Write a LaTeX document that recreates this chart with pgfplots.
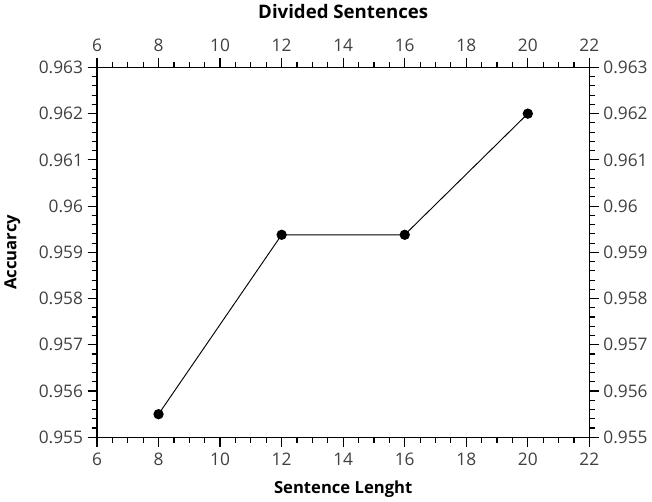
\documentclass[border=0pt]{standalone}
\usepackage{pgfplots}
\pgfplotsset{compat=1.18}
\usepackage{fontspec}
\setmainfont{Open Sans}
\begin{document}
\begin{tikzpicture}
\pgfplotsset{
  common/.style={
    width=370pt, height=278pt, scale only axis,
    xmin=6, xmax=22, ymin=0.955, ymax=0.963,
    xtick={6,8,...,22}, ytick={0.955,0.956,...,0.9635},
    minor x tick num=3, minor y tick num=4,
    tick align=outside,
    major tick length=7pt, minor tick length=4pt,
    every tick/.style={black, line width=0.9pt},
    axis line style={black, line width=0.9pt},
    scaled y ticks=false,
    /pgf/number format/assume math mode=true,
    ticklabel style={font=\fontsize{13}{15}\selectfont, text=black!75},
    yticklabel style={/pgf/number format/fixed, /pgf/number format/precision=3},
    xticklabel style={/pgf/number format/fixed},
  }
}
\begin{axis}[common,
  xticklabel pos=lower, yticklabel pos=left,
  xticklabel style={yshift=-1.5pt},
  xlabel={\textbf{Sentence Lenght}},
  ylabel={\textbf{Accuarcy}},
  label style={font=\fontsize{12.5}{15}\selectfont},
  xlabel style={yshift=-4pt},
  ylabel style={yshift=7pt},
]
\addplot[black, line width=0.7pt, mark=*, mark size=3.5pt] coordinates {
  (8,0.9555) (12,0.95938) (16,0.95938) (20,0.962)
};
\end{axis}
\begin{axis}[common,
  xticklabel pos=upper, yticklabel pos=right,
  xticklabel style={yshift=1.5pt},
  title={\textbf{Divided Sentences}},
  title style={font=\fontsize{14}{17}\selectfont, yshift=27pt},
]
\end{axis}
\end{tikzpicture}
\end{document}
